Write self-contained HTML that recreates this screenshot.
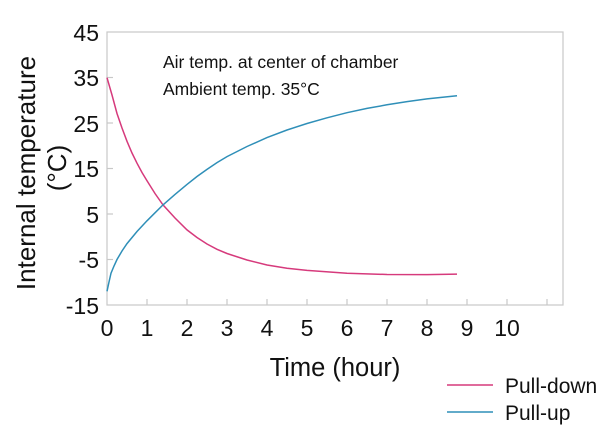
<!DOCTYPE html>
<html><head><style>
html,body{margin:0;padding:0;background:#fff;}
svg{display:block;}
text{font-family:"Liberation Sans",sans-serif;fill:#111;}
</style></head><body>
<svg width="616" height="440" viewBox="0 0 616 440">
<rect x="107" y="32" width="456" height="273" fill="none" stroke="#c8c8c8" stroke-width="1.2"/>
<g stroke="#c8c8c8" stroke-width="1.2">
<line x1="147" y1="305" x2="147" y2="299"/><line x1="187" y1="305" x2="187" y2="299"/>
<line x1="227" y1="305" x2="227" y2="299"/><line x1="267" y1="305" x2="267" y2="299"/>
<line x1="307" y1="305" x2="307" y2="299"/><line x1="347" y1="305" x2="347" y2="299"/>
<line x1="387" y1="305" x2="387" y2="299"/><line x1="427" y1="305" x2="427" y2="299"/>
<line x1="467" y1="305" x2="467" y2="299"/><line x1="507" y1="305" x2="507" y2="299"/>
<line x1="547" y1="305" x2="547" y2="299"/>
<line x1="107" y1="77.5" x2="113" y2="77.5"/><line x1="107" y1="123" x2="113" y2="123"/>
<line x1="107" y1="168.5" x2="113" y2="168.5"/><line x1="107" y1="214" x2="113" y2="214"/>
<line x1="107" y1="259.5" x2="113" y2="259.5"/>
</g>
<g font-size="23" text-anchor="end">
<text x="99" y="41">45</text><text x="99" y="86">35</text><text x="99" y="132">25</text>
<text x="99" y="177">15</text><text x="99" y="223">5</text><text x="99" y="268">-5</text>
<text x="99" y="314">-15</text>
</g>
<g font-size="23" text-anchor="middle">
<text x="107" y="336">0</text><text x="147" y="336">1</text><text x="187" y="336">2</text>
<text x="227" y="336">3</text><text x="267" y="336">4</text><text x="307" y="336">5</text>
<text x="347" y="336">6</text><text x="387" y="336">7</text><text x="427" y="336">8</text>
<text x="467" y="336">9</text><text x="507" y="336">10</text>
</g>
<text x="335" y="376" font-size="25.5" text-anchor="middle">Time (hour)</text>
<text transform="translate(35,173) rotate(-90)" font-size="26" text-anchor="middle">Internal temperature</text>
<text transform="translate(66,168) rotate(-90)" font-size="26" text-anchor="middle">(°C)</text>
<text x="163" y="68" font-size="17.5">Air temp. at center of chamber</text>
<text x="163" y="95" font-size="17.5">Ambient temp. 35°C</text>
<polyline fill="none" stroke="#d63a7c" stroke-width="1.5" points="107,77.7 112,95 117,113.5 122,128 127,141.3 132,153 137,163.2 142,172.5 147,180.8 155,193.5 163,204.9 175,218 187,229.9 197,237.5 207,244 217,249.3 227,253.5 247,260 267,265 287,268.2 307,270.4 347,273.2 387,274.5 427,274.6 457,274.1"/>
<polyline fill="none" stroke="#2f8fb8" stroke-width="1.5" points="107,291.3 109,282 111,273.2 114,266 117,259.5 122,251 127,243.6 137,231.5 147,220.8 155,212.8 163,204.9 175,194.4 187,184.4 197,176.5 207,169.4 217,162.6 227,156.6 247,146.5 267,137.6 287,130 307,123.5 327,117.8 347,112.7 367,108.4 387,104.8 407,101.6 427,98.9 457,95.7"/>
<line x1="447" y1="385" x2="493" y2="385" stroke="#d63a7c" stroke-width="1.5"/>
<line x1="447" y1="412" x2="493" y2="412" stroke="#2f8fb8" stroke-width="1.5"/>
<text x="505" y="393" font-size="21">Pull-down</text>
<text x="505" y="420" font-size="21">Pull-up</text>
</svg>
</body></html>
